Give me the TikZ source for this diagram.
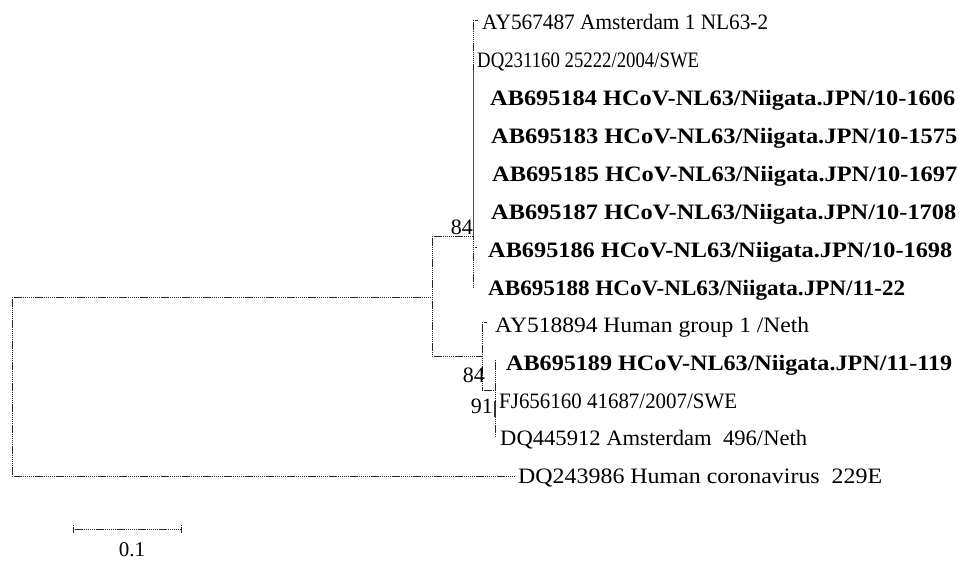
\documentclass[tikz,border=0pt]{standalone}
\usepackage{fontspec}
\setmainfont{Liberation Serif}
\newcommand{\fitw}[2]{\resizebox{#1}{\height}{#2}}
\begin{document}
\begin{tikzpicture}[x=1pt,y=-1pt,
  br/.style={draw=black!85, line width=0.9pt, dash pattern=on 1.4pt off 0.7pt},
  lbl/.style={inner sep=0pt, anchor=base west, font=\fontsize{22}{26}\selectfont},
  blbl/.style={lbl, font=\fontsize{22}{26}\selectfont\bfseries},
  bs/.style={inner sep=0pt, anchor=base east, font=\fontsize{22}{26}\selectfont}]
\useasboundingbox (0,0) rectangle (959,560);
\fill[white] (0,0) rectangle (959,560);

% leaf labels
\node[lbl]  (n1)  at (482,29)  {\fitw{286pt}{AY567487 Amsterdam 1 NL63-2}};
\node[lbl]  (n2)  at (477,67)  {\fitw{222pt}{DQ231160 25222/2004/SWE}};
\node[blbl] (n3)  at (490,105) {\fitw{465pt}{AB695184 HCoV-NL63/Niigata.JPN/10-1606}};
\node[blbl] (n4)  at (491,143) {\fitw{466pt}{AB695183 HCoV-NL63/Niigata.JPN/10-1575}};
\node[blbl] (n5)  at (492,181) {\fitw{465pt}{AB695185 HCoV-NL63/Niigata.JPN/10-1697}};
\node[blbl] (n6)  at (491,219) {\fitw{465pt}{AB695187 HCoV-NL63/Niigata.JPN/10-1708}};
\node[blbl] (n7)  at (488,257) {\fitw{464pt}{AB695186 HCoV-NL63/Niigata.JPN/10-1698}};
\node[blbl] (n8)  at (488,295) {\fitw{417pt}{AB695188 HCoV-NL63/Niigata.JPN/11-22}};
\node[lbl]  (n9)  at (495,332) {\fitw{314pt}{AY518894 Human group 1 /Neth}};
\node[blbl] (n10) at (506,370) {\fitw{446pt}{AB695189 HCoV-NL63/Niigata.JPN/11-119}};
\node[lbl]  (n11) at (499,408) {\fitw{238pt}{FJ656160 41687/2007/SWE}};
\node[lbl]  (n12) at (500,445) {\fitw{307pt}{DQ445912 Amsterdam\ \ 496/Neth}};
\node[lbl]  (n13) at (518,483) {\fitw{364pt}{DQ243986 Human coronavirus\ \ 229E}};

% internal nodes
\coordinate (rootA) at (12,297);
\coordinate (rootB) at (12,476);
\coordinate (nA)  at (432,297);
\coordinate (nAt) at (432,236);
\coordinate (nAb) at (432,356);
\coordinate (cN)  at (473,236);
\coordinate (cNt) at (473,20);
\coordinate (cNb) at (473,288);
\coordinate (cNs) at (473,70);
\coordinate (cL)  at (482,356);
\coordinate (cLt) at (482,322);
\coordinate (cLb) at (482,390);
\coordinate (cM)  at (495,390);
\coordinate (cMt) at (495,360);
\coordinate (cMb) at (495,437);
\coordinate (k1)  at (495,401);
\coordinate (k2)  at (495,417);

% branches
\draw[br] (rootA) -- (rootB);
\draw[br] (rootA) -- (nA);
\draw[br, shorten >=4pt] (rootB) -- (rootB -| n13.west);
\draw[br] (nAt) -- (nAb);
\draw[br] (nAt) -- (cN);
\draw[br] (cNt) -- (cNb);
\draw[black!70, line width=0.8pt] (cNs) -- (cN);
\draw[br] (cNt) -- ++(5,0);
\draw[br] (cN |- 0,247) -- ++(4,0);
\draw[br] (nAb) -- (cL);
\draw[br] (cLt) -- (cLb);
\draw[br] (cLt) -- ++(5,0);
\draw[br] (cLb) -- (cM);
\draw[br] (cMt) -- (cMb);
\draw[black!80, line width=2.8pt] (k1) -- (k2);

% bootstrap values
\node[bs] (b1) at (473,234) {84};
\node[bs] (b2) at (485,382) {84};
\node[bs] (b3) at (493,413) {91};

% scale bar
\coordinate (s1) at (73,529);
\coordinate (s2) at (181,529);
\draw[br] (s1) -- (s2);
\draw[br] (s1) ++(0,-4) -- ++(0,8);
\draw[br] (s2) ++(0,-4) -- ++(0,8);
\node[inner sep=0pt, anchor=base, font=\fontsize{21}{24}\selectfont] (sl) at (132,556) {0.1};
\end{tikzpicture}
\end{document}
